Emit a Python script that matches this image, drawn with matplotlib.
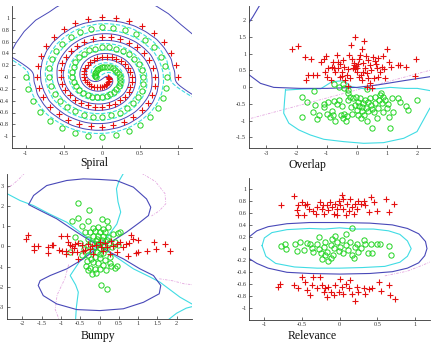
import numpy as np
import matplotlib
matplotlib.use('Agg')
import matplotlib.pyplot as plt

plt.rcParams['font.family'] = 'Liberation Serif'
plt.rcParams['axes.unicode_minus'] = False

RED = '#e41010'
GREEN = '#22d422'
BLUE = '#4848b8'
CYAN = '#40dce4'
PINK = '#e4a8e0'

# ---------------- Spiral data ----------------
spiral_red_x = [1.00, 0.97, 0.91, 0.81, 0.68, 0.53, 0.36, 0.18, 0.00, -0.18, -0.35, -0.50, -0.63, -0.73, -0.80, -0.84,
                -0.85, -0.82, -0.77, -0.68, -0.57, -0.44, -0.30, -0.15, 0.00, 0.15, 0.29, 0.41, 0.52, 0.60, 0.66, 0.69,
                0.69, 0.67, 0.62, 0.55, 0.46, 0.36, 0.24, 0.12, 0.00, -0.12, -0.23, -0.33, -0.41, -0.47, -0.52, -0.54,
                -0.54, -0.52, -0.48, -0.42, -0.35, -0.27, -0.18, -0.09, 0.00, 0.09, 0.17, 0.24, 0.30, 0.35, 0.37, 0.39,
                0.39, 0.37, 0.34, 0.30, 0.25, 0.19, 0.13, 0.06, 0.00, -0.06, -0.11, -0.16, -0.19, -0.22, -0.23, -0.24,
                -0.23, -0.22, -0.20, -0.17, -0.14, -0.10, -0.07, -0.03, 0.00, 0.03, 0.05, 0.07, 0.08, 0.09, 0.09, 0.09,
                0.08]
spiral_red_y = [0.00, 0.21, 0.41, 0.59, 0.74, 0.86, 0.95, 1.00, 1.01, 0.98, 0.91, 0.81, 0.68, 0.53, 0.36, 0.18,
                0.00, -0.18, -0.34, -0.50, -0.62, -0.72, -0.79, -0.83, -0.84, -0.81, -0.76, -0.67, -0.56, -0.44, -0.30, -0.15,
                0.00, 0.15, 0.28, 0.40, 0.50, 0.58, 0.64, 0.67, 0.67, 0.65, 0.60, 0.53, 0.44, 0.34, 0.23, 0.12,
                0.00, -0.11, -0.22, -0.31, -0.39, -0.44, -0.48, -0.50, -0.50, -0.48, -0.45, -0.39, -0.33, -0.25, -0.17, -0.08,
                0.00, 0.08, 0.15, 0.22, 0.27, 0.31, 0.33, 0.34, 0.34, 0.32, 0.29, 0.25, 0.21, 0.16, 0.10, 0.05,
                0.00, -0.05, -0.09, -0.12, -0.15, -0.17, -0.17, -0.17, -0.17, -0.15, -0.14, -0.11, -0.09, -0.06, -0.04, -0.02,
                0.00]
spiral_green_x = [-1.00, -0.97, -0.91, -0.81, -0.68, -0.53, -0.36, -0.18, 0.00, 0.18, 0.35, 0.50, 0.63, 0.73, 0.80, 0.84,
                  0.85, 0.82, 0.77, 0.68, 0.57, 0.44, 0.30, 0.15, 0.00, -0.15, -0.29, -0.41, -0.52, -0.60, -0.66, -0.69,
                  -0.69, -0.67, -0.62, -0.55, -0.46, -0.36, -0.24, -0.12, 0.00, 0.12, 0.23, 0.33, 0.41, 0.47, 0.52, 0.54,
                  0.54, 0.52, 0.48, 0.42, 0.35, 0.27, 0.18, 0.09, 0.00, -0.09, -0.17, -0.24, -0.30, -0.35, -0.37, -0.39,
                  -0.39, -0.37, -0.34, -0.30, -0.25, -0.19, -0.13, -0.06, 0.00, 0.06, 0.11, 0.16, 0.19, 0.22, 0.23, 0.24,
                  0.23, 0.22, 0.20, 0.17, 0.14, 0.10, 0.07, 0.03, 0.00, -0.03, -0.05, -0.07, -0.08, -0.09, -0.09, -0.09,
                  -0.08]
spiral_green_y = [0.00, -0.21, -0.41, -0.59, -0.74, -0.86, -0.95, -1.00, -1.01, -0.98, -0.91, -0.81, -0.68, -0.53, -0.36, -0.18,
                  0.00, 0.18, 0.34, 0.50, 0.62, 0.72, 0.79, 0.83, 0.84, 0.81, 0.76, 0.67, 0.56, 0.44, 0.30, 0.15,
                  0.00, -0.15, -0.28, -0.40, -0.50, -0.58, -0.64, -0.67, -0.67, -0.65, -0.60, -0.53, -0.44, -0.34, -0.23, -0.12,
                  0.00, 0.11, 0.22, 0.31, 0.39, 0.44, 0.48, 0.50, 0.50, 0.48, 0.45, 0.39, 0.33, 0.25, 0.17, 0.08,
                  0.00, -0.08, -0.15, -0.22, -0.27, -0.31, -0.33, -0.34, -0.34, -0.32, -0.29, -0.25, -0.21, -0.16, -0.10, -0.05,
                  0.00, 0.05, 0.09, 0.12, 0.15, 0.17, 0.17, 0.17, 0.17, 0.15, 0.14, 0.11, 0.09, 0.06, 0.04, 0.02,
                  0.00]
spiral_arc_left_x = [-1.25, -1.20, -1.13, -1.02, -0.87, -0.69, -0.60, -0.50]
spiral_arc_left_y = [0.30, 0.40, 0.57, 0.77, 0.96, 1.10, 1.18, 1.25]
spiral_arc_right_x = [0.62, 0.71, 0.87, 1.04, 1.20, 1.26]
spiral_arc_right_y = [1.25, 1.20, 1.07, 0.88, 0.71, 0.65]

# ---------------- Overlap data ----------------
overlap_red_x = [-2.14, -1.97, -1.72, -1.52, -1.61, -1.69, -1.45, -1.31, -1.19, -1.10, -1.02, -0.95, -0.98, -0.78, -0.84,
                 -0.75, -0.67, -0.64, -0.62, -0.56, -0.73, -0.51, -0.49, -0.42, -0.29, -0.34, -0.22, -0.29, -0.20, -0.18,
                 -0.11, -0.07, -0.14, -0.10, -0.02, -0.07, 0.02, 0.00, 0.07, 0.10, 0.13, 0.18, 0.24, 0.21, 0.26, 0.30,
                 0.33, 0.38, 0.42, 0.46, 0.32, 0.49, 0.54, 0.60, 0.62, 0.65, 0.71, 0.76, 0.82, 0.87, 0.57, 0.93, 0.98,
                 1.07, 1.13, 1.35, 1.41, 1.64, 1.97, 1.91, 0.00, -0.40, 0.15, 0.43, -0.45, -0.25, 0.20, -0.55, 0.05,
                 0.70, -1.05, 0.35, -0.85, 0.90]
overlap_red_y = [1.13, 1.22, 0.89, 0.84, 0.36, 0.20, 0.36, 0.36, 0.74, 0.85, 0.93, 0.56, 0.31, 0.76, 0.61,
                 0.58, 0.95, 0.74, 0.56, 0.68, 0.46, 0.46, 0.34, 0.61, 0.54, 0.36, 0.26, 0.04, 1.25, 0.85,
                 0.66, 1.50, 0.58, 0.71, 0.64, 0.54, 0.68, 0.56, 0.85, 0.97, 0.36, 1.13, 1.37, 0.71, 0.56, 0.93,
                 0.41, 0.26, 0.66, 0.51, 0.01, -0.04, 0.90, 0.78, 0.68, 0.56, 0.87, 0.46, 0.61, 0.92, 0.26, 0.26, 1.13,
                 0.76, 0.61, 0.66, 0.66, 0.59, 0.83, 0.34, 0.46, 0.21, 0.21, 0.11, 0.80, 0.95, 0.45, 0.30, 0.30,
                 0.30, 0.45, 0.80, 0.20, 0.55]
overlap_green_x = [-1.81, -1.67, -1.83, -1.45, -1.39, -1.31, -1.25, -1.11, -1.08, -0.95, -1.00, -0.89, -0.84, -0.81, -0.73,
                   -0.75, -0.67, -0.60, -0.51, -0.53, -0.45, -0.42, -0.38, -0.34, -0.31, -0.29, -0.23, -0.12, -0.07, -0.04,
                   -0.01, 0.02, 0.04, 0.07, 0.10, 0.13, 0.15, 0.21, 0.24, 0.26, 0.30, 0.32, 0.38, 0.42, 0.46, 0.51,
                   0.57, 0.60, 0.65, 0.71, 0.73, 0.76, 0.80, 0.82, 0.87, 0.93, 0.98, 1.04, 1.06, 1.09, 1.17, 1.20,
                   1.37, 1.42, 1.64, 1.70, 1.98, -0.75, -0.60, -0.45, -0.42, -0.29, 0.32, -1.41, 0.18, 0.50, -0.20,
                   0.35, 0.60, -0.15, 0.85]
overlap_green_y = [-0.30, -0.46, -0.90, -0.74, -0.54, -0.96, -0.82, -0.52, -0.59, -0.44, -0.79, -0.88, -0.72, -0.83, -1.01,
                   -0.42, -0.51, -0.39, -0.56, -0.83, -0.91, -0.79, -1.01, -0.85, -0.39, -0.19, -0.29, -0.34, -0.54, -0.29,
                   -0.69, -0.44, -0.82, -0.56, -0.34, -0.93, -0.72, -0.49, -0.83, -0.38, -0.62, -1.01, -0.73, -0.32, -0.54, -1.23,
                   -0.74, -0.49, -0.93, -0.64, -0.39, -0.24, -0.19, -0.49, -0.74, -0.39, -0.64, -0.51, -0.90, -1.21, -0.32, -0.74,
                   -0.34, -0.44, -0.56, -0.69, -0.39, 0.08, 0.01, 0.08, -0.04, -0.10, -0.06, -0.11, -0.60, -0.65, -0.60,
                   -0.45, -0.30, -0.80, -0.30]
overlap_blue_x = [-3.70, -3.57, -3.20, -2.76, -1.88, -0.99, 0.00, 0.66, 1.55, 2.50]
overlap_blue_y = [0.45, 0.36, 0.11, -0.01, -0.04, -0.04, -0.01, 0.06, 0.19, 0.32]
overlap_blue2_x = [-3.60, -3.45, -3.22]
overlap_blue2_y = [1.90, 2.10, 2.45]
overlap_cyan_x = [-2.37, -1.80, -1.20, -0.83, -0.44, -0.20, 0.00, 0.40, 0.80, 1.10, 1.60, 2.00, 2.32, 2.50,
                  2.50, 2.41, 1.99, 1.55, 0.88, 0.22, -0.44, -1.10, -1.55, -1.93, -2.26, -2.43, -2.40, -2.37]
overlap_cyan_y = [-0.09, -0.06, -0.05, 0.16, 0.19, 0.02, -0.02, -0.07, -0.04, -0.01, -0.04, -0.04, -0.09, -0.12,
                  -0.55, -0.64, -1.33, -1.53, -1.66, -1.68, -1.63, -1.56, -1.43, -1.28, -1.08, -0.78, -0.39, -0.09]
overlap_pink_x = [-3.70, 2.50]
overlap_pink_y = [-0.98, 0.52]

# ---------------- Bumpy data ----------------
bumpy_green_x = [-0.56, -0.27, -0.72, -0.57, -0.31, -0.46, 0.06, 0.19, 0.23, -0.37, -0.25, -0.12, 0.01, 0.14, -0.16,
                 -0.03, 0.10, 0.23, -0.29, -0.07, 0.06, 0.19, -0.20, -0.03, 0.12, -0.12, 0.01, 0.17, -0.20, -0.06,
                 0.08, -0.29, -0.12, 0.01, 0.14, -0.16, -0.03, -0.25, -0.12, 0.01, -0.31, -0.20, 0.17, 0.27, 0.30,
                 0.40, 0.45, -0.33, 0.36, 0.49, 0.53, 0.40, 0.49, 0.32, -0.51, -0.64, -0.76, 0.03, 0.19, 0.27, -0.46,
                 -0.40, -0.05, 0.08, -0.18, 0.05, -0.10, 0.00, -0.22, 0.10, -0.08, 0.12, -0.30, 0.25, -0.35]
bumpy_green_y = [2.13, 1.77, 1.27, 1.39, 1.23, 1.00, 1.36, 1.23, 0.95, 0.73, 0.70, 0.78, 0.73, 0.70, 0.53,
                 0.53, 0.50, 0.45, 0.37, 0.37, 0.29, 0.29, 0.17, 0.12, 0.07, -0.04, -0.09, -0.12, -0.25, -0.29,
                 -0.32, -0.45, -0.53, -0.58, -0.65, -0.78, -0.81, -1.07, -1.11, -1.14, -1.19, -1.36, -1.19, -0.81, -0.95,
                 -1.07, -0.99, -0.70, 0.61, 0.66, 0.73, 0.20, 0.07, -0.04, 0.17, 0.45, -0.29, -1.93, -2.10, -0.53, -0.42,
                 -0.12, 0.95, 0.85, 0.90, 0.20, 0.25, -0.40, -0.60, -0.90, -1.30, 0.00, 0.05, 0.15, -0.95]
bumpy_red_x = [-1.86, -1.90, -1.69, -1.60, -1.71, -1.33, -1.24, -1.20, -1.34, -1.01, -1.04, -0.98, -0.85, -0.81, -0.76,
               -0.72, -0.64, -0.55, -0.46, -0.87, -0.72, -0.59, -0.44, -0.37, -0.31, -0.25, -0.57, -0.87, 0.01, 0.19,
               0.36, 0.45, 0.53, 0.70, 0.77, 0.83, 0.88, 1.00, 0.99, 0.94, 0.75, 1.22, 1.41, 1.46, 1.70, 1.84,
               0.46, 0.27, 0.10, -0.16, -0.10, 0.05, -0.20, 0.30, 0.60, -0.65, 0.15]
bumpy_red_y = [0.57, 0.37, 0.01, 0.00, -0.16, -0.04, 0.07, 0.07, -0.32, 0.50, -0.16, -0.21, 0.50, 0.20, 0.07,
               0.01, 0.12, 0.17, 0.07, -0.21, -0.29, -0.29, -0.25, -0.16, 0.12, -0.12, -0.62, -0.40, 0.21, -0.04,
               0.04, 0.12, 0.21, 0.12, 0.17, 0.57, 0.37, 0.29, -0.29, -0.32, -0.49, -0.22, 0.21, -0.12, 0.12, -0.21,
               -0.29, -0.37, -0.21, -0.37, 0.05, -0.05, 0.00, 0.25, -0.05, -0.10, 0.15]
bumpy_blue_up_x = [0.00, -0.25, -0.59, -1.11, -1.54, -1.84, -1.71, -1.37, -0.85, -0.42, 0.01, 0.44, 0.88, 1.22, 1.33,
                   1.27, 1.05, 0.70, 0.36, 0.00]
bumpy_blue_up_y = [0.00, 0.29, 0.70, 1.36, 1.77, 2.06, 2.51, 3.00, 3.25, 3.33, 3.30, 3.25, 2.92, 2.34, 1.93,
                   1.52, 1.19, 0.70, 0.29, 0.00]
bumpy_blue_lo_x = [0.00, -0.42, -0.85, -1.28, -1.54, -1.59, -1.46, -1.11, -0.59, 0.01, 0.62, 1.14, 1.55, 1.59,
                   1.40, 1.05, 0.62, 0.27, 0.00]
bumpy_blue_lo_y = [0.00, -0.62, -1.11, -1.44, -1.69, -1.93, -2.43, -2.84, -3.12, -3.17, -3.08, -2.76, -2.34, -1.93,
                   -1.44, -1.11, -0.62, -0.29, 0.00]
bumpy_cyan1_x = [-2.45, -2.06, -1.71, -1.30, -0.85, -0.40, 0.00, 0.45, 0.88, 1.30, 1.57, 2.09, 2.45]
bumpy_cyan1_y = [2.65, 2.26, 2.01, 1.60, 1.19, 0.55, 0.05, -0.55, -1.11, -1.50, -1.77, -2.51, -2.90]
bumpy_cyan2_x = [0.62, 0.50, 0.44, 0.48, 0.55, 0.45, 0.20, -0.20, -0.50, -0.76, -0.62, -0.55, -0.60, -0.62]
bumpy_cyan2_y = [3.60, 3.20, 2.84, 2.20, 1.69, 1.10, 0.45, -0.20, -0.70, -1.44, -1.90, -2.26, -3.00, -3.60]
bumpy_cyan3_x = [1.80, 2.00, 2.25, 2.45]
bumpy_cyan3_y = [-3.60, -3.30, -3.05, -2.95]
bumpy_pink1_x = [-2.45, -2.25, -2.10, -1.95]
bumpy_pink1_y = [2.80, 3.05, 3.30, 3.60]
bumpy_pink2_x = [1.10, 1.45, 1.70, 1.72, 1.55, 1.35]
bumpy_pink2_y = [3.60, 3.20, 2.60, 2.10, 1.75, 1.50]
bumpy_pink3_x = [-0.80, -0.90, -1.10, -1.15, -1.05]
bumpy_pink3_y = [-0.90, -1.60, -2.40, -3.10, -3.60]
bumpy_pink4_x = [1.55, 1.90, 2.20, 2.45]
bumpy_pink4_y = [-1.60, -1.70, -1.85, -1.90]

# ---------------- Relevance data ----------------
relev_red_x = [-0.78, -0.60, -0.55, -0.56, -0.55, -0.50, -0.46, -0.44, -0.47, -0.41, -0.35, -0.32, -0.30, -0.26, -0.24,
               -0.22, -0.21, -0.17, -0.15, -0.13, -0.10, -0.08, -0.06, -0.04, -0.01, 0.01, 0.03, 0.04, 0.05, 0.08,
               0.10, 0.12, 0.14, 0.16, 0.19, 0.21, 0.23, 0.25, 0.28, 0.32, 0.34, 0.39, 0.42, 0.45, 0.50, 0.61,
               0.65, 0.72, -0.04,
               -0.82, -0.79, -0.60, -0.50, -0.55, -0.46, -0.44, -0.40, -0.37, -0.35, -0.30, -0.26, -0.24, -0.21, -0.19,
               -0.17, -0.15, -0.12, -0.08, -0.06, -0.01, 0.01, 0.03, 0.05, 0.08, 0.12, 0.14, 0.16, 0.21, 0.23, 0.25,
               0.32, 0.39, 0.43, 0.52, 0.55, 0.65, 0.67, 0.73, 0.34]
relev_red_y = [0.73, 0.89, 0.73, 0.65, 0.57, 0.78, 0.73, 0.76, 0.57, 0.67, 0.63, 0.59, 0.70, 0.78, 0.67,
               0.74, 0.59, 0.73, 0.65, 0.79, 0.71, 0.59, 0.76, 0.67, 0.80, 0.73, 0.91, 0.84, 0.66, 0.56,
               0.76, 0.63, 0.83, 0.70, 0.59, 0.76, 0.67, 0.81, 0.76, 0.81, 0.73, 0.62, 0.87, 0.78, 0.63, 0.84,
               0.61, 0.75, 0.56,
               -0.65, -0.59, -0.62, -0.48, -0.67, -0.56, -0.70, -0.78, -0.62, -0.48, -0.67, -0.48, -0.62, -0.74, -0.67,
               -0.81, -0.65, -0.73, -0.79, -0.61, -0.73, -0.51, -0.65, -0.76, -0.59, -0.67, -0.53, -0.76, -0.89, -0.65, -0.73,
               -0.67, -0.69, -0.67, -0.56, -0.72, -0.62, -0.78, -0.85, -0.76]
relev_green_x = [-0.78, -0.72, -0.71, -0.59, -0.57, -0.52, -0.47, -0.44, -0.39, -0.37, -0.35, -0.30, -0.28, -0.27, -0.25,
                 -0.24, -0.21, -0.19, -0.17, -0.15, -0.12, -0.10, -0.09, -0.07, -0.06, -0.04, -0.01, 0.01, 0.03, 0.05,
                 0.08, 0.09, 0.11, 0.14, 0.16, 0.19, 0.21, 0.23, 0.25, 0.29, 0.32, 0.34, 0.37, 0.41, 0.43, 0.50,
                 0.53, 0.65, 0.68, 0.16, -0.20, -0.12]
relev_green_y = [0.04, 0.08, 0.00, 0.08, -0.04, 0.11, -0.03, 0.10, 0.07, 0.01, -0.06, 0.08, 0.00, 0.20, -0.08,
                 -0.17, 0.03, 0.11, -0.06, -0.21, 0.06, 0.17, -0.11, 0.01, 0.22, 0.11, -0.04, 0.03, 0.14, -0.08,
                 0.25, 0.06, -0.03, 0.11, -0.11, -0.16, 0.03, 0.08, -0.06, 0.01, 0.14, 0.08, -0.08, 0.07, -0.07, 0.08,
                 0.07, 0.04, -0.10, 0.35, -0.10, -0.16]
relev_blue_x = [-1.30, -1.20, -1.10, -0.95, -0.70, -0.40, 0.00, 0.40, 0.70, 0.90, 1.05, 1.14, 1.16, 1.13, 1.05, 0.90,
                0.70, 0.40, 0.00, -0.40, -0.70, -0.95, -1.10, -1.20, -1.30]
relev_blue_y = [0.10, 0.20, 0.30, 0.37, 0.42, 0.44, 0.44, 0.43, 0.40, 0.34, 0.25, 0.12, 0.00, -0.12, -0.24, -0.33,
                -0.39, -0.42, -0.43, -0.42, -0.40, -0.33, -0.25, -0.17, -0.08]
relev_cyan_x = [-1.03, -1.00, -0.90, -0.70, -0.40, -0.20, 0.00, 0.20, 0.45, 0.65, 0.80, 0.90, 0.95, 0.90, 0.80, 0.60,
                0.30, 0.00, -0.30, -0.60, -0.85, -0.98, -1.03]
relev_cyan_y = [0.05, 0.18, 0.27, 0.32, 0.34, 0.33, 0.35, 0.33, 0.33, 0.30, 0.24, 0.13, 0.00, -0.13, -0.23, -0.30,
                -0.32, -0.33, -0.33, -0.31, -0.25, -0.13, 0.05]
relev_pink_x = [0.60, 0.90, 1.10, 1.25]
relev_pink_y = [-0.46, -0.38, -0.28, -0.20]

W, H = 434, 344
fig = plt.figure(figsize=(W / 100, H / 100), dpi=100)


def make_axes(l, r, t, b, xlim, ylim, xticks, yticks):
    ax = fig.add_axes([l / W, 1 - b / H, (r - l) / W, (b - t) / H])
    ax.set_xlim(xlim)
    ax.set_ylim(ylim)
    ax.set_xticks(xticks)
    ax.set_yticks(yticks)
    ax.set_xticklabels(['%g' % v for v in xticks])
    ax.set_yticklabels(['%g' % v for v in yticks])
    for s in ['top', 'right']:
        ax.spines[s].set_visible(False)
    for s in ['left', 'bottom']:
        ax.spines[s].set_linewidth(0.6)
        ax.spines[s].set_color('#333333')
    ax.tick_params(direction='in', length=2, width=0.5, labelsize=4.5, pad=2, colors='#333333')
    return ax


def points(ax, rx, ry, gx, gy):
    ax.plot(gx, gy, 'o', ms=3.8, mfc='none', mec=GREEN, mew=0.7, clip_on=False)
    ax.plot(rx, ry, '+', ms=3.9, color=RED, mew=0.8, clip_on=False)


def log_density(px, py, X, Y, s):
    a = -((X[..., None] - np.array(px)) ** 2 + (Y[..., None] - np.array(py)) ** 2) / (2 * s ** 2)
    m = a.max(axis=-1)
    return m + np.log(np.exp(a - m[..., None]).sum(axis=-1))


# Spiral
ax1 = make_axes(12, 192, 6, 148, (-1.18, 1.18), (-1.2, 1.2),
                [-1, -0.5, 0, 0.5, 1], [round(v, 1) for v in np.arange(-1, 1.01, 0.2)])
gx, gy = np.meshgrid(np.linspace(-1.3, 1.3, 301), np.linspace(-1.3, 1.3, 301))
D = log_density(spiral_red_x, spiral_red_y, gx, gy, 0.075) - log_density(spiral_green_x, spiral_green_y, gx, gy, 0.075)
ax1.contour(gx, gy, D, levels=[-0.8], colors=[CYAN], linewidths=0.8)
ax1.contour(gx, gy, D, levels=[0.8], colors=[BLUE], linewidths=0.7)
ax1.plot(spiral_arc_left_x, spiral_arc_left_y, color=BLUE, lw=0.7)
ax1.plot(spiral_arc_right_x, spiral_arc_right_y, color=BLUE, lw=0.7)
points(ax1, spiral_red_x, spiral_red_y, spiral_green_x, spiral_green_y)

# Overlap
ax2 = make_axes(249, 430, 6, 148, (-3.58, 2.42), (-1.82, 2.42),
                [-3, -2, -1, 0, 1, 2], [-1.5, -1, -0.5, 0, 0.5, 1, 1.5, 2])
ax2.plot(overlap_pink_x, overlap_pink_y, color=PINK, lw=0.6, ls=(0, (3, 1.5, 1, 1.5)))
ax2.plot(overlap_cyan_x, overlap_cyan_y, color=CYAN, lw=0.8)
ax2.plot(overlap_blue_x, overlap_blue_y, color=BLUE, lw=0.8)
ax2.plot(overlap_blue2_x, overlap_blue2_y, color=BLUE, lw=0.8)
points(ax2, overlap_red_x, overlap_red_y, overlap_green_x, overlap_green_y)

# Bumpy
ax3 = make_axes(7, 192, 174, 318.7, (-2.4, 2.4), (-3.57, 3.57),
                [-2, -1.5, -1, -0.5, 0, 0.5, 1, 1.5, 2], [-3, -2, -1, 0, 1, 2, 3])
for px, py in [(bumpy_pink1_x, bumpy_pink1_y), (bumpy_pink2_x, bumpy_pink2_y),
               (bumpy_pink3_x, bumpy_pink3_y), (bumpy_pink4_x, bumpy_pink4_y)]:
    ax3.plot(px, py, color=PINK, lw=0.6, ls=(0, (3, 1.5, 1, 1.5)))
for px, py in [(bumpy_cyan1_x, bumpy_cyan1_y), (bumpy_cyan2_x, bumpy_cyan2_y), (bumpy_cyan3_x, bumpy_cyan3_y)]:
    ax3.plot(px, py, color=CYAN, lw=0.8)
ax3.plot(bumpy_blue_up_x, bumpy_blue_up_y, color=BLUE, lw=0.8)
ax3.plot(bumpy_blue_lo_x, bumpy_blue_lo_y, color=BLUE, lw=0.8)
points(ax3, bumpy_red_x, bumpy_red_y, bumpy_green_x, bumpy_green_y)

# Relevance
ax4 = make_axes(249.3, 430, 177.5, 319.7, (-1.2, 1.2), (-1.2, 1.2),
                [-1, -0.5, 0, 0.5, 1], [round(v, 1) for v in np.arange(-1, 1.01, 0.2)])
ax4.plot(relev_pink_x, relev_pink_y, color=PINK, lw=0.6, ls=(0, (3, 1.5, 1, 1.5)))
ax4.plot(relev_cyan_x, relev_cyan_y, color=CYAN, lw=0.8)
ax4.plot(relev_blue_x, relev_blue_y, color=BLUE, lw=0.8)
points(ax4, relev_red_x, relev_red_y, relev_green_x, relev_green_y)

for ax in [ax1, ax2, ax3, ax4]:
    for ln in ax.lines:
        ln.set_clip_on(True)

labels = ['Spiral', 'Overlap', 'Bumpy', 'Relevance']
label_pos = [(94.5, 163), (307, 165), (97.5, 336), (312, 336)]
for t, (x, y) in zip(labels, label_pos):
    fig.text(x / W, 1 - y / H, t, ha='center', va='center', fontsize=8.5, color='#111111')

fig.savefig('out.png', dpi=100)
